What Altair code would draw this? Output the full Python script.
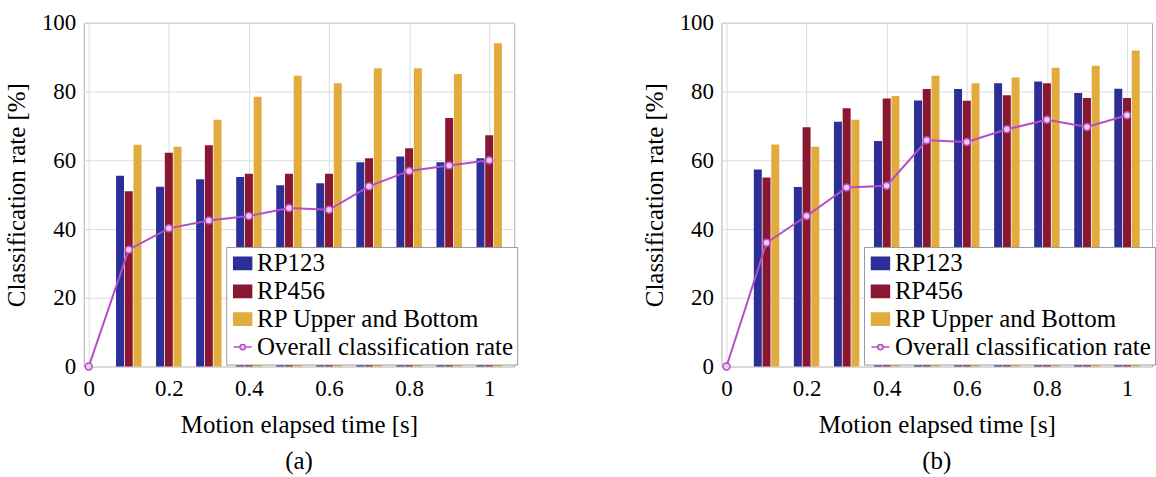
import altair as alt
import pandas as pd

times = [0.1, 0.2, 0.3, 0.4, 0.5, 0.6, 0.7, 0.8, 0.9, 1.0]
line_times = [0.0] + times

series_names = ["RP123", "RP456", "RP Upper and Bottom", "Overall classification rate"]

a_rp123 = [55.5, 52.3, 54.5, 55.1, 52.7, 53.3, 59.4, 61.1, 59.4, 60.6]
a_rp456 = [51.0, 62.2, 64.4, 56.1, 56.1, 56.1, 60.6, 63.5, 72.3, 67.3]
a_upper = [64.5, 63.9, 71.8, 78.5, 84.6, 82.4, 86.8, 86.8, 85.1, 94.0]
a_overall = [0.0, 34.0, 40.2, 42.5, 43.8, 46.1, 45.6, 52.4, 56.9, 58.5, 60.0]

b_rp123 = [57.3, 52.2, 71.2, 65.6, 77.4, 80.7, 82.4, 82.9, 79.6, 80.8]
b_rp456 = [55.0, 69.6, 75.1, 78.0, 80.7, 77.3, 78.9, 82.4, 78.1, 78.1]
b_upper = [64.6, 63.9, 71.8, 78.7, 84.6, 82.4, 84.1, 86.9, 87.5, 91.9]
b_overall = [0.0, 36.0, 43.8, 52.1, 52.6, 65.8, 65.3, 69.0, 71.8, 69.7, 73.1]

x_ticks = [0, 0.2, 0.4, 0.6, 0.8, 1.0]
y_ticks = [0, 20, 40, 60, 80, 100]

BLUE = "#2c2f97"
RED = "#8a1732"
GOLD = "#e2ab3e"
MAG = "#b34fc6"
MAG_FILL = "#eccaf2"
FONT = "'Liberation Serif', 'Times New Roman', serif"

RECT = "M-1,-0.68H1V0.68H-1Z"
LINEPT = "M-1,0H-0.3M0.3,0H1M0.3,0A0.3,0.3,0,1,1,-0.3,0A0.3,0.3,0,1,1,0.3,0"

fill_scale = alt.Scale(domain=series_names, range=[BLUE, RED, GOLD, MAG_FILL])
stroke_scale = alt.Scale(domain=series_names, range=[BLUE, RED, GOLD, MAG])
shape_scale = alt.Scale(domain=series_names, range=[RECT, RECT, RECT, LINEPT])

legend = alt.Legend(
    title=None, orient="none", legendX=143, legendY=225,
    fillColor="white", strokeColor="#9a9a9a", padding=4, rowPadding=2,
    labelFont=FONT, labelFontSize=25, labelColor="black", labelOffset=2,
    symbolSize=324, symbolStrokeWidth=1.5, symbolOpacity=1, labelLimit=400,
)

xscale = alt.Scale(domain=[0, 1.05], nice=False, zero=False)
yscale = alt.Scale(domain=[0, 100], nice=False)

xaxis = alt.Axis(values=x_ticks, format="~g", title="Motion elapsed time [s]",
                 labelPadding=11, titlePadding=12,
                 labelFont=FONT, labelFontSize=23, labelColor="black",
                 titleFont=FONT, titleFontSize=25, titleFontWeight="normal",
                 titleColor="black", ticks=False, domain=False, gridColor="#dcdcdc")
yaxis = alt.Axis(values=y_ticks, title="Classification rate [%]",
                 labelPadding=8, titlePadding=12,
                 labelFont=FONT, labelFontSize=23, labelColor="black",
                 titleFont=FONT, titleFontSize=25, titleFontWeight="normal",
                 titleColor="black", ticks=False, domain=False, gridColor="#dcdcdc")


def panel(rp123, rp456, upper, overall, caption):
    rows = []
    for i, t in enumerate(times):
        for k, vals in enumerate([rp123, rp456, upper]):
            rows.append({"t": t, "series": series_names[k], "idx": k, "value": vals[i]})
    bars_df = pd.DataFrame(rows)
    line_df = pd.DataFrame({"t": line_times, "value": overall,
                            "series": series_names[3]})

    bars = alt.Chart(bars_df).transform_calculate(
        xc="datum.t + (datum.idx - 1) * 0.0218"
    ).mark_bar(size=8).encode(
        x=alt.X("xc:Q", scale=xscale, axis=xaxis),
        y=alt.Y("value:Q", scale=yscale, axis=yaxis),
        fill=alt.Fill("series:N", scale=fill_scale, legend=legend),
    )
    line = alt.Chart(line_df).mark_line(color=MAG, strokeWidth=2).encode(
        x=alt.X("t:Q", scale=xscale, axis=xaxis),
        y=alt.Y("value:Q", scale=yscale, axis=yaxis),
    )
    pts = alt.Chart(line_df).mark_point(shape="circle", size=50, filled=True,
                                       fill=MAG_FILL, stroke=MAG, strokeWidth=1.5,
                                       opacity=1).encode(
        x=alt.X("t:Q", scale=xscale, axis=xaxis),
        y=alt.Y("value:Q", scale=yscale, axis=yaxis),
    )
    leg = alt.Chart(line_df).mark_point(filled=True, opacity=0).encode(
        x=alt.X("t:Q", scale=xscale, axis=xaxis),
        y=alt.Y("value:Q", scale=yscale, axis=yaxis),
        fill=alt.Fill("series:N", scale=fill_scale, legend=legend),
        stroke=alt.Stroke("series:N", scale=stroke_scale, legend=legend),
        shape=alt.Shape("series:N", scale=shape_scale, legend=legend),
    )
    return alt.layer(bars, line, pts, leg).properties(
        width=432, height=345,
        title=alt.TitleParams(caption, orient="bottom", offset=12, font=FONT,
                              fontSize=25, fontWeight="normal", color="black"),
    )


chart = alt.hconcat(
    panel(a_rp123, a_rp456, a_upper, a_overall, "(a)"),
    panel(b_rp123, b_rp456, b_upper, b_overall, "(b)"),
    spacing=124,
).resolve_scale(
    fill="independent", stroke="independent", shape="independent"
).resolve_legend(
    fill="independent", stroke="independent", shape="independent"
).properties(
    padding={"left": 4, "top": 10, "right": 0, "bottom": 0},
    background="white",
).configure_view(
    stroke="#b0b0b0", strokeWidth=1
).configure_axis(
    labelFont=FONT, titleFont=FONT,
).configure_legend(
    labelFont=FONT,
).configure_title(
    font=FONT, color="black",
)

chart.save("out.html", embed_options={"renderer": "svg", "actions": False})
